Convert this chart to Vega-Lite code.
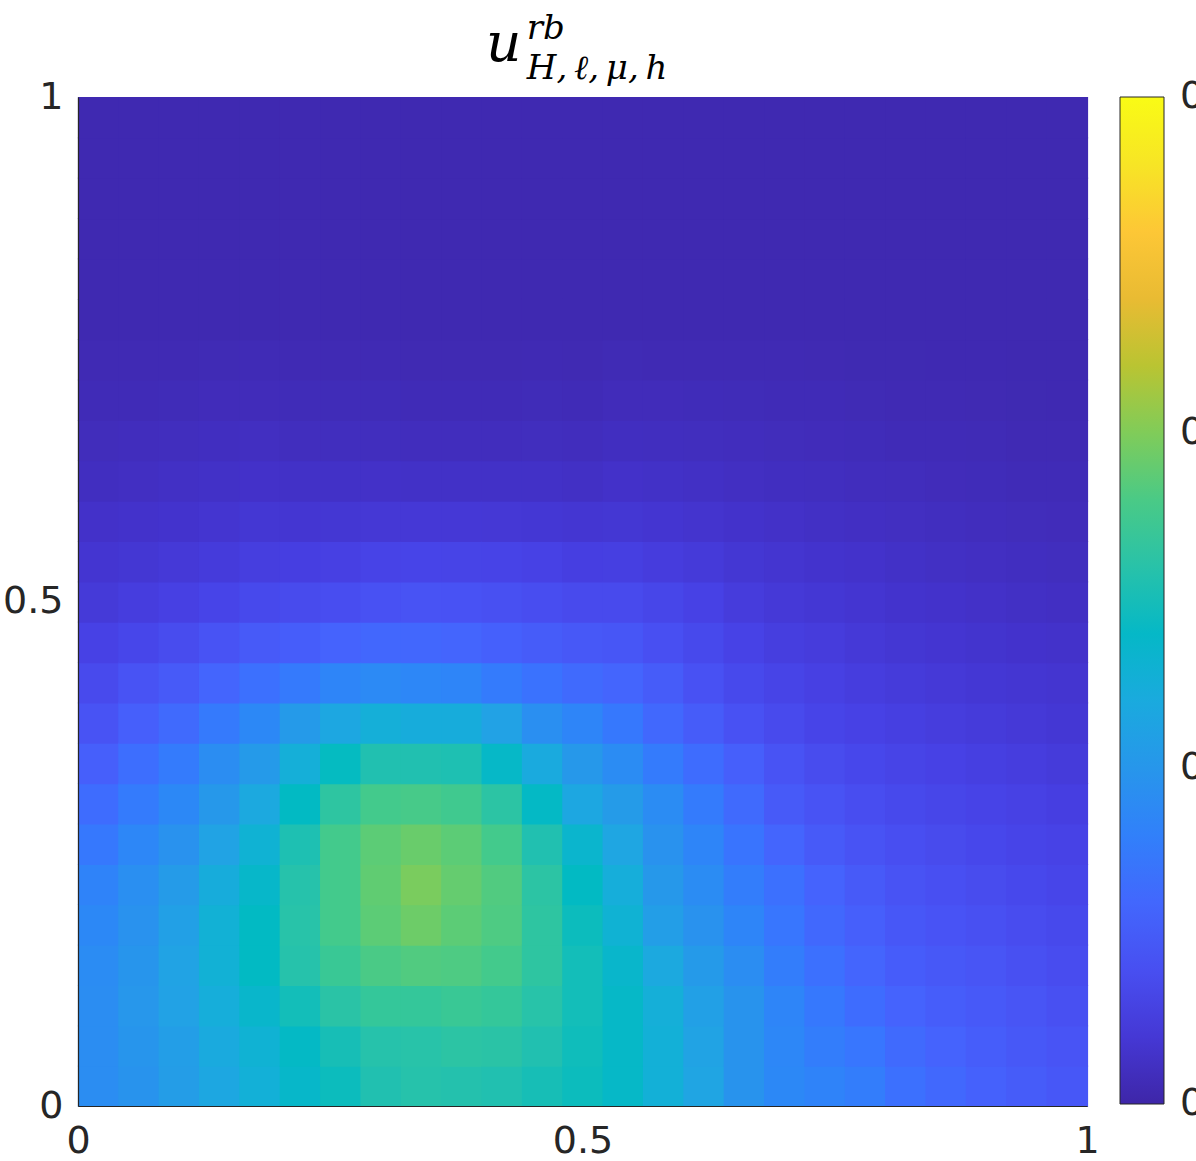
{
"$schema": "https://vega.github.io/schema/vega-lite/v6.json",
"width": 1009, "height": 1009,
"autosize": {"type": "none"},
"padding": {"left": 78, "top": 97, "right": 109, "bottom": 55},
"background": "white",
"config": {"view": {"stroke": null}},
"title": {
  "text": "u",
  "subtitle": ["\u200b\u2003\u2009rb", "\u200b\u2003\u2009H,\u2009ℓ,\u2009μ,\u2009h"],
  "anchor": "start", "frame": "group", "align": "left", "dx": 408, "dy": 24,
  "font": "DejaVu Serif", "fontSize": 55, "fontStyle": "italic", "fontWeight": "normal", "color": "black",
  "subtitleFont": "DejaVu Serif", "subtitleFontSize": 34, "subtitleFontStyle": "italic", "subtitleColor": "black",
  "subtitlePadding": -61, "subtitleLineHeight": 40, "offset": 10
},
"data": {"values": [
{"x":0.02,"y":0.02,"v":0.00915},{"x":0.02,"y":0.06,"v":0.00915},{"x":0.02,"y":0.1,"v":0.00915},{"x":0.02,"y":0.14,"v":0.009},{"x":0.02,"y":0.18,"v":0.0087},{"x":0.02,"y":0.22,"v":0.00825},{"x":0.02,"y":0.26,"v":0.00735},{"x":0.02,"y":0.3,"v":0.00645},{"x":0.02,"y":0.34,"v":0.0054},{"x":0.02,"y":0.38,"v":0.00435},{"x":0.02,"y":0.42,"v":0.0036},{"x":0.02,"y":0.46,"v":0.00285},{"x":0.02,"y":0.5,"v":0.00216},{"x":0.02,"y":0.54,"v":0.00174},{"x":0.02,"y":0.58,"v":0.00135},{"x":0.02,"y":0.62,"v":0.00099},{"x":0.02,"y":0.66,"v":0.00078},{"x":0.02,"y":0.7,"v":0.0006},{"x":0.02,"y":0.74,"v":0.00048},{"x":0.02,"y":0.78,"v":0.00036},{"x":0.02,"y":0.82,"v":0.00036},{"x":0.02,"y":0.86,"v":0.00036},{"x":0.02,"y":0.9,"v":0.00036},{"x":0.02,"y":0.94,"v":0.00036},{"x":0.02,"y":0.98,"v":0.00036},
{"x":0.06,"y":0.02,"v":0.00975},{"x":0.06,"y":0.06,"v":0.0099},{"x":0.06,"y":0.1,"v":0.01005},{"x":0.06,"y":0.14,"v":0.0099},{"x":0.06,"y":0.18,"v":0.0096},{"x":0.06,"y":0.22,"v":0.0093},{"x":0.06,"y":0.26,"v":0.00855},{"x":0.06,"y":0.3,"v":0.00765},{"x":0.06,"y":0.34,"v":0.0066},{"x":0.06,"y":0.38,"v":0.0054},{"x":0.06,"y":0.42,"v":0.00435},{"x":0.06,"y":0.46,"v":0.0033},{"x":0.06,"y":0.5,"v":0.00246},{"x":0.06,"y":0.54,"v":0.00189},{"x":0.06,"y":0.58,"v":0.00144},{"x":0.06,"y":0.62,"v":0.00108},{"x":0.06,"y":0.66,"v":0.00084},{"x":0.06,"y":0.7,"v":0.00063},{"x":0.06,"y":0.74,"v":0.00048},{"x":0.06,"y":0.78,"v":0.00036},{"x":0.06,"y":0.82,"v":0.00036},{"x":0.06,"y":0.86,"v":0.00036},{"x":0.06,"y":0.9,"v":0.00036},{"x":0.06,"y":0.94,"v":0.00036},{"x":0.06,"y":0.98,"v":0.00036},
{"x":0.1,"y":0.02,"v":0.01065},{"x":0.1,"y":0.06,"v":0.0108},{"x":0.1,"y":0.1,"v":0.0111},{"x":0.1,"y":0.14,"v":0.01125},{"x":0.1,"y":0.18,"v":0.01095},{"x":0.1,"y":0.22,"v":0.0105},{"x":0.1,"y":0.26,"v":0.0096},{"x":0.1,"y":0.3,"v":0.0087},{"x":0.1,"y":0.34,"v":0.00765},{"x":0.1,"y":0.38,"v":0.0063},{"x":0.1,"y":0.42,"v":0.00495},{"x":0.1,"y":0.46,"v":0.00375},{"x":0.1,"y":0.5,"v":0.00276},{"x":0.1,"y":0.54,"v":0.00207},{"x":0.1,"y":0.58,"v":0.00156},{"x":0.1,"y":0.62,"v":0.00117},{"x":0.1,"y":0.66,"v":0.0009},{"x":0.1,"y":0.7,"v":0.00066},{"x":0.1,"y":0.74,"v":0.00051},{"x":0.1,"y":0.78,"v":0.00036},{"x":0.1,"y":0.82,"v":0.00036},{"x":0.1,"y":0.86,"v":0.00036},{"x":0.1,"y":0.9,"v":0.00036},{"x":0.1,"y":0.94,"v":0.00036},{"x":0.1,"y":0.98,"v":0.00036},
{"x":0.14,"y":0.02,"v":0.0117},{"x":0.14,"y":0.06,"v":0.012},{"x":0.14,"y":0.1,"v":0.01245},{"x":0.14,"y":0.14,"v":0.0129},{"x":0.14,"y":0.18,"v":0.0129},{"x":0.14,"y":0.22,"v":0.0123},{"x":0.14,"y":0.26,"v":0.01125},{"x":0.14,"y":0.3,"v":0.0102},{"x":0.14,"y":0.34,"v":0.00915},{"x":0.14,"y":0.38,"v":0.0075},{"x":0.14,"y":0.42,"v":0.00585},{"x":0.14,"y":0.46,"v":0.00435},{"x":0.14,"y":0.5,"v":0.00315},{"x":0.14,"y":0.54,"v":0.00231},{"x":0.14,"y":0.58,"v":0.00171},{"x":0.14,"y":0.62,"v":0.00126},{"x":0.14,"y":0.66,"v":0.00096},{"x":0.14,"y":0.7,"v":0.00072},{"x":0.14,"y":0.74,"v":0.00054},{"x":0.14,"y":0.78,"v":0.00036},{"x":0.14,"y":0.82,"v":0.00036},{"x":0.14,"y":0.86,"v":0.00036},{"x":0.14,"y":0.9,"v":0.00036},{"x":0.14,"y":0.94,"v":0.00036},{"x":0.14,"y":0.98,"v":0.00036},
{"x":0.18,"y":0.02,"v":0.01275},{"x":0.18,"y":0.06,"v":0.01305},{"x":0.18,"y":0.1,"v":0.01365},{"x":0.18,"y":0.14,"v":0.01425},{"x":0.18,"y":0.18,"v":0.01425},{"x":0.18,"y":0.22,"v":0.0138},{"x":0.18,"y":0.26,"v":0.01305},{"x":0.18,"y":0.3,"v":0.01185},{"x":0.18,"y":0.34,"v":0.01035},{"x":0.18,"y":0.38,"v":0.0087},{"x":0.18,"y":0.42,"v":0.00675},{"x":0.18,"y":0.46,"v":0.00495},{"x":0.18,"y":0.5,"v":0.00354},{"x":0.18,"y":0.54,"v":0.00255},{"x":0.18,"y":0.58,"v":0.00186},{"x":0.18,"y":0.62,"v":0.00135},{"x":0.18,"y":0.66,"v":0.00102},{"x":0.18,"y":0.7,"v":0.00075},{"x":0.18,"y":0.74,"v":0.00057},{"x":0.18,"y":0.78,"v":0.00036},{"x":0.18,"y":0.82,"v":0.00036},{"x":0.18,"y":0.86,"v":0.00036},{"x":0.18,"y":0.9,"v":0.00036},{"x":0.18,"y":0.94,"v":0.00036},{"x":0.18,"y":0.98,"v":0.00036},
{"x":0.22,"y":0.02,"v":0.0138},{"x":0.22,"y":0.06,"v":0.0141},{"x":0.22,"y":0.1,"v":0.015},{"x":0.22,"y":0.14,"v":0.0159},{"x":0.22,"y":0.18,"v":0.01605},{"x":0.22,"y":0.22,"v":0.0159},{"x":0.22,"y":0.26,"v":0.01545},{"x":0.22,"y":0.3,"v":0.01425},{"x":0.22,"y":0.34,"v":0.0126},{"x":0.22,"y":0.38,"v":0.01035},{"x":0.22,"y":0.42,"v":0.0075},{"x":0.22,"y":0.46,"v":0.00525},{"x":0.22,"y":0.5,"v":0.00366},{"x":0.22,"y":0.54,"v":0.00261},{"x":0.22,"y":0.58,"v":0.0018},{"x":0.22,"y":0.62,"v":0.00126},{"x":0.22,"y":0.66,"v":0.0009},{"x":0.22,"y":0.7,"v":0.00066},{"x":0.22,"y":0.74,"v":0.00048},{"x":0.22,"y":0.78,"v":0.00036},{"x":0.22,"y":0.82,"v":0.00036},{"x":0.22,"y":0.86,"v":0.00036},{"x":0.22,"y":0.9,"v":0.00036},{"x":0.22,"y":0.94,"v":0.00036},{"x":0.22,"y":0.98,"v":0.00036},
{"x":0.26,"y":0.02,"v":0.0147},{"x":0.26,"y":0.06,"v":0.01515},{"x":0.26,"y":0.1,"v":0.0162},{"x":0.26,"y":0.14,"v":0.01725},{"x":0.26,"y":0.18,"v":0.0177},{"x":0.26,"y":0.22,"v":0.0177},{"x":0.26,"y":0.26,"v":0.0177},{"x":0.26,"y":0.3,"v":0.0165},{"x":0.26,"y":0.34,"v":0.0144},{"x":0.26,"y":0.38,"v":0.0117},{"x":0.26,"y":0.42,"v":0.0084},{"x":0.26,"y":0.46,"v":0.0057},{"x":0.26,"y":0.5,"v":0.0039},{"x":0.26,"y":0.54,"v":0.00276},{"x":0.26,"y":0.58,"v":0.00189},{"x":0.26,"y":0.62,"v":0.00126},{"x":0.26,"y":0.66,"v":0.0009},{"x":0.26,"y":0.7,"v":0.00066},{"x":0.26,"y":0.74,"v":0.00048},{"x":0.26,"y":0.78,"v":0.00036},{"x":0.26,"y":0.82,"v":0.00036},{"x":0.26,"y":0.86,"v":0.00036},{"x":0.26,"y":0.9,"v":0.00036},{"x":0.26,"y":0.94,"v":0.00036},{"x":0.26,"y":0.98,"v":0.00036},
{"x":0.3,"y":0.02,"v":0.0156},{"x":0.3,"y":0.06,"v":0.0159},{"x":0.3,"y":0.1,"v":0.01695},{"x":0.3,"y":0.14,"v":0.018},{"x":0.3,"y":0.18,"v":0.01875},{"x":0.3,"y":0.22,"v":0.0189},{"x":0.3,"y":0.26,"v":0.01875},{"x":0.3,"y":0.3,"v":0.0177},{"x":0.3,"y":0.34,"v":0.0156},{"x":0.3,"y":0.38,"v":0.0126},{"x":0.3,"y":0.42,"v":0.00885},{"x":0.3,"y":0.46,"v":0.006},{"x":0.3,"y":0.5,"v":0.0042},{"x":0.3,"y":0.54,"v":0.003},{"x":0.3,"y":0.58,"v":0.00198},{"x":0.3,"y":0.62,"v":0.00129},{"x":0.3,"y":0.66,"v":0.0009},{"x":0.3,"y":0.7,"v":0.00066},{"x":0.3,"y":0.74,"v":0.00048},{"x":0.3,"y":0.78,"v":0.00036},{"x":0.3,"y":0.82,"v":0.00036},{"x":0.3,"y":0.86,"v":0.00036},{"x":0.3,"y":0.9,"v":0.00036},{"x":0.3,"y":0.94,"v":0.00036},{"x":0.3,"y":0.98,"v":0.00036},
{"x":0.34,"y":0.02,"v":0.0159},{"x":0.34,"y":0.06,"v":0.01605},{"x":0.34,"y":0.1,"v":0.01695},{"x":0.34,"y":0.14,"v":0.0183},{"x":0.34,"y":0.18,"v":0.01935},{"x":0.34,"y":0.22,"v":0.0198},{"x":0.34,"y":0.26,"v":0.0192},{"x":0.34,"y":0.3,"v":0.01785},{"x":0.34,"y":0.34,"v":0.0156},{"x":0.34,"y":0.38,"v":0.0123},{"x":0.34,"y":0.42,"v":0.00855},{"x":0.34,"y":0.46,"v":0.006},{"x":0.34,"y":0.5,"v":0.00435},{"x":0.34,"y":0.54,"v":0.00315},{"x":0.34,"y":0.58,"v":0.00204},{"x":0.34,"y":0.62,"v":0.00126},{"x":0.34,"y":0.66,"v":0.00087},{"x":0.34,"y":0.7,"v":0.00063},{"x":0.34,"y":0.74,"v":0.00045},{"x":0.34,"y":0.78,"v":0.00036},{"x":0.34,"y":0.82,"v":0.00036},{"x":0.34,"y":0.86,"v":0.00036},{"x":0.34,"y":0.9,"v":0.00036},{"x":0.34,"y":0.94,"v":0.00036},{"x":0.34,"y":0.98,"v":0.00036},
{"x":0.38,"y":0.02,"v":0.01575},{"x":0.38,"y":0.06,"v":0.01635},{"x":0.38,"y":0.1,"v":0.01725},{"x":0.38,"y":0.14,"v":0.01815},{"x":0.38,"y":0.18,"v":0.01875},{"x":0.38,"y":0.22,"v":0.01905},{"x":0.38,"y":0.26,"v":0.01875},{"x":0.38,"y":0.3,"v":0.01755},{"x":0.38,"y":0.34,"v":0.01545},{"x":0.38,"y":0.38,"v":0.0123},{"x":0.38,"y":0.42,"v":0.0084},{"x":0.38,"y":0.46,"v":0.00585},{"x":0.38,"y":0.5,"v":0.00426},{"x":0.38,"y":0.54,"v":0.00309},{"x":0.38,"y":0.58,"v":0.00201},{"x":0.38,"y":0.62,"v":0.00126},{"x":0.38,"y":0.66,"v":0.00087},{"x":0.38,"y":0.7,"v":0.00063},{"x":0.38,"y":0.74,"v":0.00045},{"x":0.38,"y":0.78,"v":0.00036},{"x":0.38,"y":0.82,"v":0.00036},{"x":0.38,"y":0.86,"v":0.00036},{"x":0.38,"y":0.9,"v":0.00036},{"x":0.38,"y":0.94,"v":0.00036},{"x":0.38,"y":0.98,"v":0.00036},
{"x":0.42,"y":0.02,"v":0.0156},{"x":0.42,"y":0.06,"v":0.0162},{"x":0.42,"y":0.1,"v":0.01695},{"x":0.42,"y":0.14,"v":0.0177},{"x":0.42,"y":0.18,"v":0.01815},{"x":0.42,"y":0.22,"v":0.0183},{"x":0.42,"y":0.26,"v":0.0177},{"x":0.42,"y":0.3,"v":0.01635},{"x":0.42,"y":0.34,"v":0.01395},{"x":0.42,"y":0.38,"v":0.0111},{"x":0.42,"y":0.42,"v":0.00765},{"x":0.42,"y":0.46,"v":0.00549},{"x":0.42,"y":0.5,"v":0.00411},{"x":0.42,"y":0.54,"v":0.003},{"x":0.42,"y":0.58,"v":0.00198},{"x":0.42,"y":0.62,"v":0.00126},{"x":0.42,"y":0.66,"v":0.00087},{"x":0.42,"y":0.7,"v":0.00063},{"x":0.42,"y":0.74,"v":0.00045},{"x":0.42,"y":0.78,"v":0.00036},{"x":0.42,"y":0.82,"v":0.00036},{"x":0.42,"y":0.86,"v":0.00036},{"x":0.42,"y":0.9,"v":0.00036},{"x":0.42,"y":0.94,"v":0.00036},{"x":0.42,"y":0.98,"v":0.00036},
{"x":0.46,"y":0.02,"v":0.01515},{"x":0.46,"y":0.06,"v":0.0156},{"x":0.46,"y":0.1,"v":0.01605},{"x":0.46,"y":0.14,"v":0.0165},{"x":0.46,"y":0.18,"v":0.0165},{"x":0.46,"y":0.22,"v":0.01635},{"x":0.46,"y":0.26,"v":0.0156},{"x":0.46,"y":0.3,"v":0.0141},{"x":0.46,"y":0.34,"v":0.012},{"x":0.46,"y":0.38,"v":0.0093},{"x":0.46,"y":0.42,"v":0.0069},{"x":0.46,"y":0.46,"v":0.0051},{"x":0.46,"y":0.5,"v":0.0039},{"x":0.46,"y":0.54,"v":0.00285},{"x":0.46,"y":0.58,"v":0.00195},{"x":0.46,"y":0.62,"v":0.00126},{"x":0.46,"y":0.66,"v":0.0009},{"x":0.46,"y":0.7,"v":0.00066},{"x":0.46,"y":0.74,"v":0.00048},{"x":0.46,"y":0.78,"v":0.00036},{"x":0.46,"y":0.82,"v":0.00036},{"x":0.46,"y":0.86,"v":0.00036},{"x":0.46,"y":0.9,"v":0.00036},{"x":0.46,"y":0.94,"v":0.00036},{"x":0.46,"y":0.98,"v":0.00036},
{"x":0.5,"y":0.02,"v":0.0147},{"x":0.5,"y":0.06,"v":0.01485},{"x":0.5,"y":0.1,"v":0.015},{"x":0.5,"y":0.14,"v":0.015},{"x":0.5,"y":0.18,"v":0.0147},{"x":0.5,"y":0.22,"v":0.01425},{"x":0.5,"y":0.26,"v":0.0135},{"x":0.5,"y":0.3,"v":0.0117},{"x":0.5,"y":0.34,"v":0.0102},{"x":0.5,"y":0.38,"v":0.0084},{"x":0.5,"y":0.42,"v":0.0063},{"x":0.5,"y":0.46,"v":0.0048},{"x":0.5,"y":0.5,"v":0.0036},{"x":0.5,"y":0.54,"v":0.00261},{"x":0.5,"y":0.58,"v":0.0018},{"x":0.5,"y":0.62,"v":0.0012},{"x":0.5,"y":0.66,"v":0.00087},{"x":0.5,"y":0.7,"v":0.00063},{"x":0.5,"y":0.74,"v":0.00045},{"x":0.5,"y":0.78,"v":0.00036},{"x":0.5,"y":0.82,"v":0.00036},{"x":0.5,"y":0.86,"v":0.00036},{"x":0.5,"y":0.9,"v":0.00036},{"x":0.5,"y":0.94,"v":0.00036},{"x":0.5,"y":0.98,"v":0.00036},
{"x":0.54,"y":0.02,"v":0.01395},{"x":0.54,"y":0.06,"v":0.01395},{"x":0.54,"y":0.1,"v":0.01395},{"x":0.54,"y":0.14,"v":0.01365},{"x":0.54,"y":0.18,"v":0.01305},{"x":0.54,"y":0.22,"v":0.01245},{"x":0.54,"y":0.26,"v":0.01155},{"x":0.54,"y":0.3,"v":0.0105},{"x":0.54,"y":0.34,"v":0.009},{"x":0.54,"y":0.38,"v":0.00735},{"x":0.54,"y":0.42,"v":0.00585},{"x":0.54,"y":0.46,"v":0.00465},{"x":0.54,"y":0.5,"v":0.0036},{"x":0.54,"y":0.54,"v":0.00264},{"x":0.54,"y":0.58,"v":0.00189},{"x":0.54,"y":0.62,"v":0.00135},{"x":0.54,"y":0.66,"v":0.00099},{"x":0.54,"y":0.7,"v":0.00075},{"x":0.54,"y":0.74,"v":0.00054},{"x":0.54,"y":0.78,"v":0.00036},{"x":0.54,"y":0.82,"v":0.00036},{"x":0.54,"y":0.86,"v":0.00036},{"x":0.54,"y":0.9,"v":0.00036},{"x":0.54,"y":0.94,"v":0.00036},{"x":0.54,"y":0.98,"v":0.00036},
{"x":0.58,"y":0.02,"v":0.01275},{"x":0.58,"y":0.06,"v":0.01275},{"x":0.58,"y":0.1,"v":0.0126},{"x":0.58,"y":0.14,"v":0.01185},{"x":0.58,"y":0.18,"v":0.0108},{"x":0.58,"y":0.22,"v":0.0102},{"x":0.58,"y":0.26,"v":0.0096},{"x":0.58,"y":0.3,"v":0.009},{"x":0.58,"y":0.34,"v":0.00765},{"x":0.58,"y":0.38,"v":0.00615},{"x":0.58,"y":0.42,"v":0.0051},{"x":0.58,"y":0.46,"v":0.00405},{"x":0.58,"y":0.5,"v":0.00324},{"x":0.58,"y":0.54,"v":0.0024},{"x":0.58,"y":0.58,"v":0.00174},{"x":0.58,"y":0.62,"v":0.00126},{"x":0.58,"y":0.66,"v":0.00093},{"x":0.58,"y":0.7,"v":0.00072},{"x":0.58,"y":0.74,"v":0.00051},{"x":0.58,"y":0.78,"v":0.00036},{"x":0.58,"y":0.82,"v":0.00036},{"x":0.58,"y":0.86,"v":0.00036},{"x":0.58,"y":0.9,"v":0.00036},{"x":0.58,"y":0.94,"v":0.00036},{"x":0.58,"y":0.98,"v":0.00036},
{"x":0.62,"y":0.02,"v":0.0114},{"x":0.62,"y":0.06,"v":0.01125},{"x":0.62,"y":0.1,"v":0.01095},{"x":0.62,"y":0.14,"v":0.01035},{"x":0.62,"y":0.18,"v":0.0096},{"x":0.62,"y":0.22,"v":0.009},{"x":0.62,"y":0.26,"v":0.0084},{"x":0.62,"y":0.3,"v":0.00765},{"x":0.62,"y":0.34,"v":0.00645},{"x":0.62,"y":0.38,"v":0.0051},{"x":0.62,"y":0.42,"v":0.0042},{"x":0.62,"y":0.46,"v":0.00354},{"x":0.62,"y":0.5,"v":0.00285},{"x":0.62,"y":0.54,"v":0.00219},{"x":0.62,"y":0.58,"v":0.00162},{"x":0.62,"y":0.62,"v":0.0012},{"x":0.62,"y":0.66,"v":0.0009},{"x":0.62,"y":0.7,"v":0.00069},{"x":0.62,"y":0.74,"v":0.00051},{"x":0.62,"y":0.78,"v":0.00036},{"x":0.62,"y":0.82,"v":0.00036},{"x":0.62,"y":0.86,"v":0.00036},{"x":0.62,"y":0.9,"v":0.00036},{"x":0.62,"y":0.94,"v":0.00036},{"x":0.62,"y":0.98,"v":0.00036},
{"x":0.66,"y":0.02,"v":0.00975},{"x":0.66,"y":0.06,"v":0.00975},{"x":0.66,"y":0.1,"v":0.00975},{"x":0.66,"y":0.14,"v":0.00915},{"x":0.66,"y":0.18,"v":0.0084},{"x":0.66,"y":0.22,"v":0.0078},{"x":0.66,"y":0.26,"v":0.00705},{"x":0.66,"y":0.3,"v":0.0063},{"x":0.66,"y":0.34,"v":0.0054},{"x":0.66,"y":0.38,"v":0.0042},{"x":0.66,"y":0.42,"v":0.00354},{"x":0.66,"y":0.46,"v":0.00294},{"x":0.66,"y":0.5,"v":0.00234},{"x":0.66,"y":0.54,"v":0.00186},{"x":0.66,"y":0.58,"v":0.00141},{"x":0.66,"y":0.62,"v":0.00108},{"x":0.66,"y":0.66,"v":0.00084},{"x":0.66,"y":0.7,"v":0.00066},{"x":0.66,"y":0.74,"v":0.00048},{"x":0.66,"y":0.78,"v":0.00036},{"x":0.66,"y":0.82,"v":0.00036},{"x":0.66,"y":0.86,"v":0.00036},{"x":0.66,"y":0.9,"v":0.00036},{"x":0.66,"y":0.94,"v":0.00036},{"x":0.66,"y":0.98,"v":0.00036},
{"x":0.7,"y":0.02,"v":0.0087},{"x":0.7,"y":0.06,"v":0.00855},{"x":0.7,"y":0.1,"v":0.0084},{"x":0.7,"y":0.14,"v":0.0078},{"x":0.7,"y":0.18,"v":0.0072},{"x":0.7,"y":0.22,"v":0.00675},{"x":0.7,"y":0.26,"v":0.00585},{"x":0.7,"y":0.3,"v":0.00495},{"x":0.7,"y":0.34,"v":0.00435},{"x":0.7,"y":0.38,"v":0.0036},{"x":0.7,"y":0.42,"v":0.00309},{"x":0.7,"y":0.46,"v":0.00255},{"x":0.7,"y":0.5,"v":0.0021},{"x":0.7,"y":0.54,"v":0.00168},{"x":0.7,"y":0.58,"v":0.00129},{"x":0.7,"y":0.62,"v":0.00099},{"x":0.7,"y":0.66,"v":0.00078},{"x":0.7,"y":0.7,"v":0.00063},{"x":0.7,"y":0.74,"v":0.00048},{"x":0.7,"y":0.78,"v":0.00036},{"x":0.7,"y":0.82,"v":0.00036},{"x":0.7,"y":0.86,"v":0.00036},{"x":0.7,"y":0.9,"v":0.00036},{"x":0.7,"y":0.94,"v":0.00036},{"x":0.7,"y":0.98,"v":0.00036},
{"x":0.74,"y":0.02,"v":0.00825},{"x":0.74,"y":0.06,"v":0.0078},{"x":0.74,"y":0.1,"v":0.00735},{"x":0.74,"y":0.14,"v":0.00675},{"x":0.74,"y":0.18,"v":0.00615},{"x":0.74,"y":0.22,"v":0.0057},{"x":0.74,"y":0.26,"v":0.00495},{"x":0.74,"y":0.3,"v":0.00435},{"x":0.74,"y":0.34,"v":0.00375},{"x":0.74,"y":0.38,"v":0.00315},{"x":0.74,"y":0.42,"v":0.00276},{"x":0.74,"y":0.46,"v":0.00234},{"x":0.74,"y":0.5,"v":0.00192},{"x":0.74,"y":0.54,"v":0.00156},{"x":0.74,"y":0.58,"v":0.0012},{"x":0.74,"y":0.62,"v":0.00093},{"x":0.74,"y":0.66,"v":0.00075},{"x":0.74,"y":0.7,"v":0.0006},{"x":0.74,"y":0.74,"v":0.00045},{"x":0.74,"y":0.78,"v":0.00036},{"x":0.74,"y":0.82,"v":0.00036},{"x":0.74,"y":0.86,"v":0.00036},{"x":0.74,"y":0.9,"v":0.00036},{"x":0.74,"y":0.94,"v":0.00036},{"x":0.74,"y":0.98,"v":0.00036},
{"x":0.78,"y":0.02,"v":0.0078},{"x":0.78,"y":0.06,"v":0.0072},{"x":0.78,"y":0.1,"v":0.00645},{"x":0.78,"y":0.14,"v":0.00585},{"x":0.78,"y":0.18,"v":0.0054},{"x":0.78,"y":0.22,"v":0.00495},{"x":0.78,"y":0.26,"v":0.00435},{"x":0.78,"y":0.3,"v":0.0039},{"x":0.78,"y":0.34,"v":0.00339},{"x":0.78,"y":0.38,"v":0.00288},{"x":0.78,"y":0.42,"v":0.00249},{"x":0.78,"y":0.46,"v":0.0021},{"x":0.78,"y":0.5,"v":0.00174},{"x":0.78,"y":0.54,"v":0.00141},{"x":0.78,"y":0.58,"v":0.00111},{"x":0.78,"y":0.62,"v":0.00087},{"x":0.78,"y":0.66,"v":0.00069},{"x":0.78,"y":0.7,"v":0.00054},{"x":0.78,"y":0.74,"v":0.00042},{"x":0.78,"y":0.78,"v":0.00036},{"x":0.78,"y":0.82,"v":0.00036},{"x":0.78,"y":0.86,"v":0.00036},{"x":0.78,"y":0.9,"v":0.00036},{"x":0.78,"y":0.94,"v":0.00036},{"x":0.78,"y":0.98,"v":0.00036},
{"x":0.82,"y":0.02,"v":0.00675},{"x":0.82,"y":0.06,"v":0.0063},{"x":0.82,"y":0.1,"v":0.0057},{"x":0.82,"y":0.14,"v":0.00516},{"x":0.82,"y":0.18,"v":0.00474},{"x":0.82,"y":0.22,"v":0.00435},{"x":0.82,"y":0.26,"v":0.00396},{"x":0.82,"y":0.3,"v":0.00354},{"x":0.82,"y":0.34,"v":0.00309},{"x":0.82,"y":0.38,"v":0.00264},{"x":0.82,"y":0.42,"v":0.00228},{"x":0.82,"y":0.46,"v":0.00189},{"x":0.82,"y":0.5,"v":0.00156},{"x":0.82,"y":0.54,"v":0.00126},{"x":0.82,"y":0.58,"v":0.00102},{"x":0.82,"y":0.62,"v":0.00081},{"x":0.82,"y":0.66,"v":0.00063},{"x":0.82,"y":0.7,"v":0.00051},{"x":0.82,"y":0.74,"v":0.00042},{"x":0.82,"y":0.78,"v":0.00036},{"x":0.82,"y":0.82,"v":0.00036},{"x":0.82,"y":0.86,"v":0.00036},{"x":0.82,"y":0.9,"v":0.00036},{"x":0.82,"y":0.94,"v":0.00036},{"x":0.82,"y":0.98,"v":0.00036},
{"x":0.86,"y":0.02,"v":0.00615},{"x":0.86,"y":0.06,"v":0.0057},{"x":0.86,"y":0.1,"v":0.00525},{"x":0.86,"y":0.14,"v":0.0048},{"x":0.86,"y":0.18,"v":0.00441},{"x":0.86,"y":0.22,"v":0.00405},{"x":0.86,"y":0.26,"v":0.00366},{"x":0.86,"y":0.3,"v":0.00324},{"x":0.86,"y":0.34,"v":0.00285},{"x":0.86,"y":0.38,"v":0.00243},{"x":0.86,"y":0.42,"v":0.0021},{"x":0.86,"y":0.46,"v":0.00174},{"x":0.86,"y":0.5,"v":0.00141},{"x":0.86,"y":0.54,"v":0.00114},{"x":0.86,"y":0.58,"v":0.00093},{"x":0.86,"y":0.62,"v":0.00075},{"x":0.86,"y":0.66,"v":0.0006},{"x":0.86,"y":0.7,"v":0.00048},{"x":0.86,"y":0.74,"v":0.00039},{"x":0.86,"y":0.78,"v":0.00036},{"x":0.86,"y":0.82,"v":0.00036},{"x":0.86,"y":0.86,"v":0.00036},{"x":0.86,"y":0.9,"v":0.00036},{"x":0.86,"y":0.94,"v":0.00036},{"x":0.86,"y":0.98,"v":0.00036},
{"x":0.9,"y":0.02,"v":0.00555},{"x":0.9,"y":0.06,"v":0.00525},{"x":0.9,"y":0.1,"v":0.00489},{"x":0.9,"y":0.14,"v":0.0045},{"x":0.9,"y":0.18,"v":0.00411},{"x":0.9,"y":0.22,"v":0.00375},{"x":0.9,"y":0.26,"v":0.00339},{"x":0.9,"y":0.3,"v":0.003},{"x":0.9,"y":0.34,"v":0.00264},{"x":0.9,"y":0.38,"v":0.00225},{"x":0.9,"y":0.42,"v":0.00192},{"x":0.9,"y":0.46,"v":0.00159},{"x":0.9,"y":0.5,"v":0.00129},{"x":0.9,"y":0.54,"v":0.00105},{"x":0.9,"y":0.58,"v":0.00084},{"x":0.9,"y":0.62,"v":0.00069},{"x":0.9,"y":0.66,"v":0.00057},{"x":0.9,"y":0.7,"v":0.00045},{"x":0.9,"y":0.74,"v":0.00039},{"x":0.9,"y":0.78,"v":0.00036},{"x":0.9,"y":0.82,"v":0.00036},{"x":0.9,"y":0.86,"v":0.00036},{"x":0.9,"y":0.9,"v":0.00036},{"x":0.9,"y":0.94,"v":0.00036},{"x":0.9,"y":0.98,"v":0.00036},
{"x":0.94,"y":0.02,"v":0.0051},{"x":0.94,"y":0.06,"v":0.0048},{"x":0.94,"y":0.1,"v":0.0045},{"x":0.94,"y":0.14,"v":0.00414},{"x":0.94,"y":0.18,"v":0.00381},{"x":0.94,"y":0.22,"v":0.00348},{"x":0.94,"y":0.26,"v":0.00315},{"x":0.94,"y":0.3,"v":0.00282},{"x":0.94,"y":0.34,"v":0.00246},{"x":0.94,"y":0.38,"v":0.0021},{"x":0.94,"y":0.42,"v":0.0018},{"x":0.94,"y":0.46,"v":0.00147},{"x":0.94,"y":0.5,"v":0.0012},{"x":0.94,"y":0.54,"v":0.00096},{"x":0.94,"y":0.58,"v":0.00078},{"x":0.94,"y":0.62,"v":0.00063},{"x":0.94,"y":0.66,"v":0.00051},{"x":0.94,"y":0.7,"v":0.00042},{"x":0.94,"y":0.74,"v":0.00036},{"x":0.94,"y":0.78,"v":0.00036},{"x":0.94,"y":0.82,"v":0.00036},{"x":0.94,"y":0.86,"v":0.00036},{"x":0.94,"y":0.9,"v":0.00036},{"x":0.94,"y":0.94,"v":0.00036},{"x":0.94,"y":0.98,"v":0.00036},
{"x":0.98,"y":0.02,"v":0.00474},{"x":0.98,"y":0.06,"v":0.00444},{"x":0.98,"y":0.1,"v":0.00411},{"x":0.98,"y":0.14,"v":0.00381},{"x":0.98,"y":0.18,"v":0.00351},{"x":0.98,"y":0.22,"v":0.00321},{"x":0.98,"y":0.26,"v":0.00291},{"x":0.98,"y":0.3,"v":0.00261},{"x":0.98,"y":0.34,"v":0.00228},{"x":0.98,"y":0.38,"v":0.00195},{"x":0.98,"y":0.42,"v":0.00168},{"x":0.98,"y":0.46,"v":0.00138},{"x":0.98,"y":0.5,"v":0.00111},{"x":0.98,"y":0.54,"v":0.0009},{"x":0.98,"y":0.58,"v":0.00072},{"x":0.98,"y":0.62,"v":0.0006},{"x":0.98,"y":0.66,"v":0.00048},{"x":0.98,"y":0.7,"v":0.00039},{"x":0.98,"y":0.74,"v":0.00036},{"x":0.98,"y":0.78,"v":0.00036},{"x":0.98,"y":0.82,"v":0.00036},{"x":0.98,"y":0.86,"v":0.00036},{"x":0.98,"y":0.9,"v":0.00036},{"x":0.98,"y":0.94,"v":0.00036},{"x":0.98,"y":0.98,"v":0.00036}
]},
"mark": {"type": "rect", "binSpacing": 0, "xOffset": 0.6, "x2Offset": -0.6, "yOffset": -0.6, "y2Offset": 0.6},
"encoding": {
  "x": {"field": "x", "type": "quantitative", "bin": {"extent": [0, 1], "step": 0.04},
        "scale": {"domain": [0, 1], "nice": false},
        "axis": {"title": null, "values": [0, 0.5, 1], "format": "~g", "ticks": false, "labelPadding": 16, "labelFlush": false,
                 "labelFont": "DejaVu Sans", "labelFontSize": 38, "labelColor": "#262626", "domainColor": "#262626", "domainWidth": 1.2, "grid": false, "zindex": 1}},
  "y": {"field": "y", "type": "quantitative", "bin": {"extent": [0, 1], "step": 0.04},
        "scale": {"domain": [0, 1], "nice": false},
        "axis": {"title": null, "values": [0, 0.5, 1], "format": "~g", "ticks": false, "labelPadding": 15,
                 "labelFont": "DejaVu Sans", "labelFontSize": 38, "labelColor": "#262626", "domainColor": "#262626", "domainWidth": 1.2, "grid": false, "zindex": 1}},
  "color": {"field": "v", "type": "quantitative",
            "scale": {"domain": [0, 0.03], "interpolate": "rgb", "range": ["#3e26a8","#4332cb","#4741e5","#4852f4","#4563fd","#3875fe","#2d87f7","#2796eb","#20a5e3","#12b1d6","#02bac3","#24c1ae","#37c897","#57cc7a","#80cc59","#abc739","#d1bf27","#efba36","#fec338","#fad62d","#f5ef20","#f9fb15"]},
            "legend": {"type": "gradient", "title": null, "orient": "right", "offset": 33, "direction": "vertical", "gradientLength": 1007, "gradientThickness": 44,
                       "gradientStrokeColor": "#262626", "gradientStrokeWidth": 1, "values": [0, 0.01, 0.02, 0.03], "format": "~g",
                       "labelFont": "DejaVu Sans", "labelFontSize": 38, "labelColor": "#262626", "labelOffset": 16,
                       "labelOverlap": false, "padding": 0,
                       "encode": {"labels": {"update": {"baseline": {"value": "middle"}}}}}}
}
}
